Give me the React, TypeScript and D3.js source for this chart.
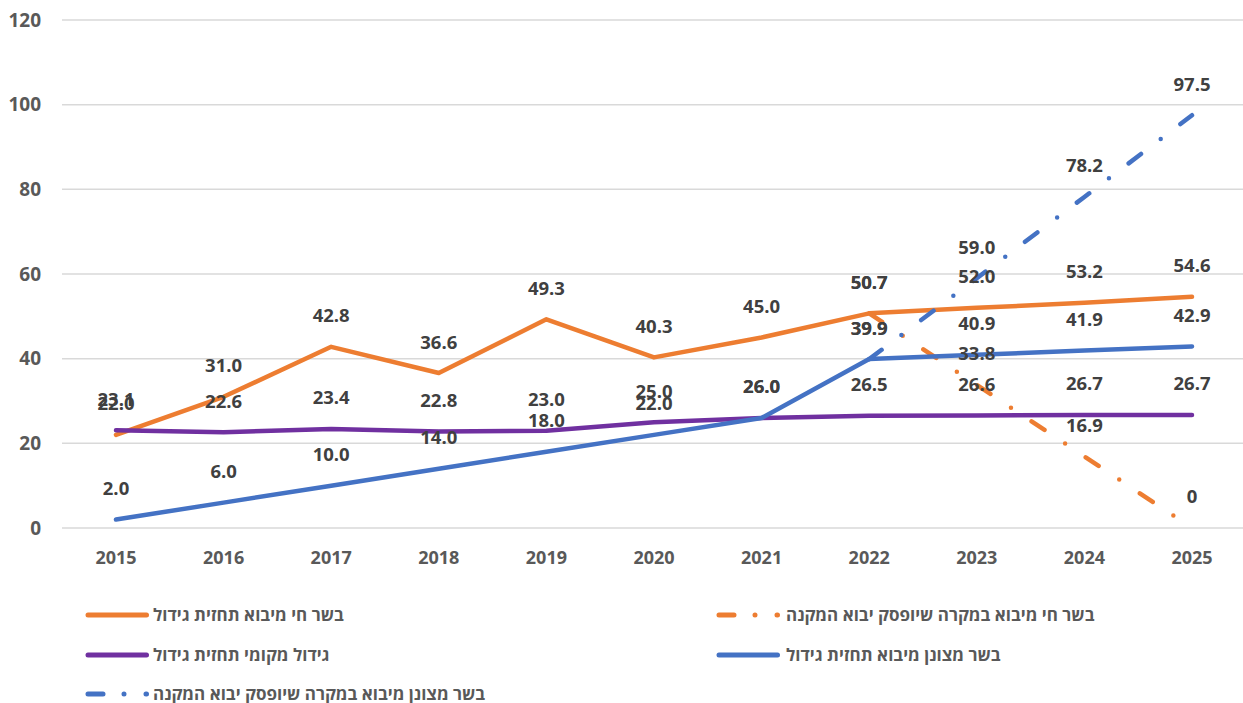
import * as d3 from 'd3';
import React from 'react';

const years = ['2015', '2016', '2017', '2018', '2019', '2020', '2021', '2022', '2023', '2024', '2025'];

// בשר חי מיבוא תחזית גידול
const liveImport = [22.0, 31.0, 42.8, 36.6, 49.3, 40.3, 45.0, 50.7, 52.0, 53.2, 54.6];
// בשר חי מיבוא במקרה שיופסק יבוא המקנה
const liveStopped: (number | null)[] = [null, null, null, null, null, null, null, 50.7, 33.8, 16.9, 0];
// גידול מקומי תחזית גידול
const localGrowth = [23.1, 22.6, 23.4, 22.8, 23.0, 25.0, 26.0, 26.5, 26.6, 26.7, 26.7];
// בשר מצונן מיבוא תחזית גידול
const chilledImport = [2.0, 6.0, 10.0, 14.0, 18.0, 22.0, 26.0, 39.9, 40.9, 41.9, 42.9];
// בשר מצונן מיבוא במקרה שיופסק יבוא המקנה
const chilledStopped: (number | null)[] = [null, null, null, null, null, null, null, 39.9, 59.0, 78.2, 97.5];

const yTicks = [0, 20, 40, 60, 80, 100, 120];

const W = 1243;
const H = 703;
const FONT = "'Open Sans', 'Liberation Sans', sans-serif";
const DASH_DOT = '15.5 24.75 0 24.75';

const series = [
  { name: 'בשר חי מיבוא תחזית גידול', values: liveImport, color: '#ED7D31', dashed: false },
  { name: 'בשר חי מיבוא במקרה שיופסק יבוא המקנה', values: liveStopped, color: '#ED7D31', dashed: true },
  { name: 'גידול מקומי תחזית גידול', values: localGrowth, color: '#7030A0', dashed: false },
  { name: 'בשר מצונן מיבוא תחזית גידול', values: chilledImport, color: '#4472C4', dashed: false },
  { name: 'בשר מצונן מיבוא במקרה שיופסק יבוא המקנה', values: chilledStopped, color: '#4472C4', dashed: true },
];

// legend slots: [lineStartX, textX, y]
const legendSlots = [
  [88, 153, 615],
  [719, 786, 615],
  [88, 153, 655],
  [719, 786, 655],
  [88, 153, 694],
];

export default function App() {
  const x = d3.scalePoint<string>().domain(years).range([116, 1192]);
  const y = d3.scaleLinear().domain([0, 120]).range([528, 20]);
  const fmt = (v: number) => (v === 0 ? '0' : d3.format('.1f')(v));

  const line = d3
    .line<number | null>()
    .defined(d => d !== null)
    .x((_, i) => x(years[i]) as number)
    .y(d => y(d as number));

  return (
    <div style={{ position: 'absolute', left: 0, top: 0 }}>
      <svg width={W} height={H} style={{ display: 'block', fontFamily: FONT }}>
        {yTicks.map(t => (
          <g key={t}>
            <line x1={62} x2={W} y1={y(t)} y2={y(t)} stroke="#d9d9d9" strokeWidth={1.5} />
            <text x={41} y={y(t)} dy="0.35em" textAnchor="end" fontSize={19} fontWeight="bold" fill="#595959">
              {t}
            </text>
          </g>
        ))}
        {years.map(yr => (
          <text key={yr} x={x(yr)} y={558} dy="0.35em" textAnchor="middle" fontSize={18} fontWeight="bold" fill="#595959">
            {yr}
          </text>
        ))}

        {series.map(s => (
          <path
            key={s.name}
            d={line(s.values) || ''}
            fill="none"
            stroke={s.color}
            strokeWidth={4.5}
            strokeLinecap="round"
            strokeLinejoin="round"
            strokeDasharray={s.dashed ? DASH_DOT : undefined}
          />
        ))}

        {series.map(s =>
          s.values.map((v, i) =>
            v === null ? null : (
              <text
                key={s.name + i}
                x={x(years[i])}
                y={y(v) - 31}
                dy="0.35em"
                textAnchor="middle"
                fontSize={18.5}
                fontWeight="bold"
                fill="#404040"
              >
                {fmt(v)}
              </text>
            )
          )
        )}

        {series.map((s, i) => {
          const [lx, tx, ly] = legendSlots[i];
          return (
            <g key={'lg' + i}>
              <line
                x1={lx}
                x2={lx + 58.5}
                y1={ly}
                y2={ly}
                stroke={s.color}
                strokeWidth={5}
                strokeLinecap="round"
                strokeDasharray={s.dashed ? '15 21 0 22' : undefined}
              />
              <text x={tx} y={ly} dy="0.35em" fontSize={17} fontWeight="bold" fill="#595959">
                {s.name}
              </text>
            </g>
          );
        })}
      </svg>
    </div>
  );
}
